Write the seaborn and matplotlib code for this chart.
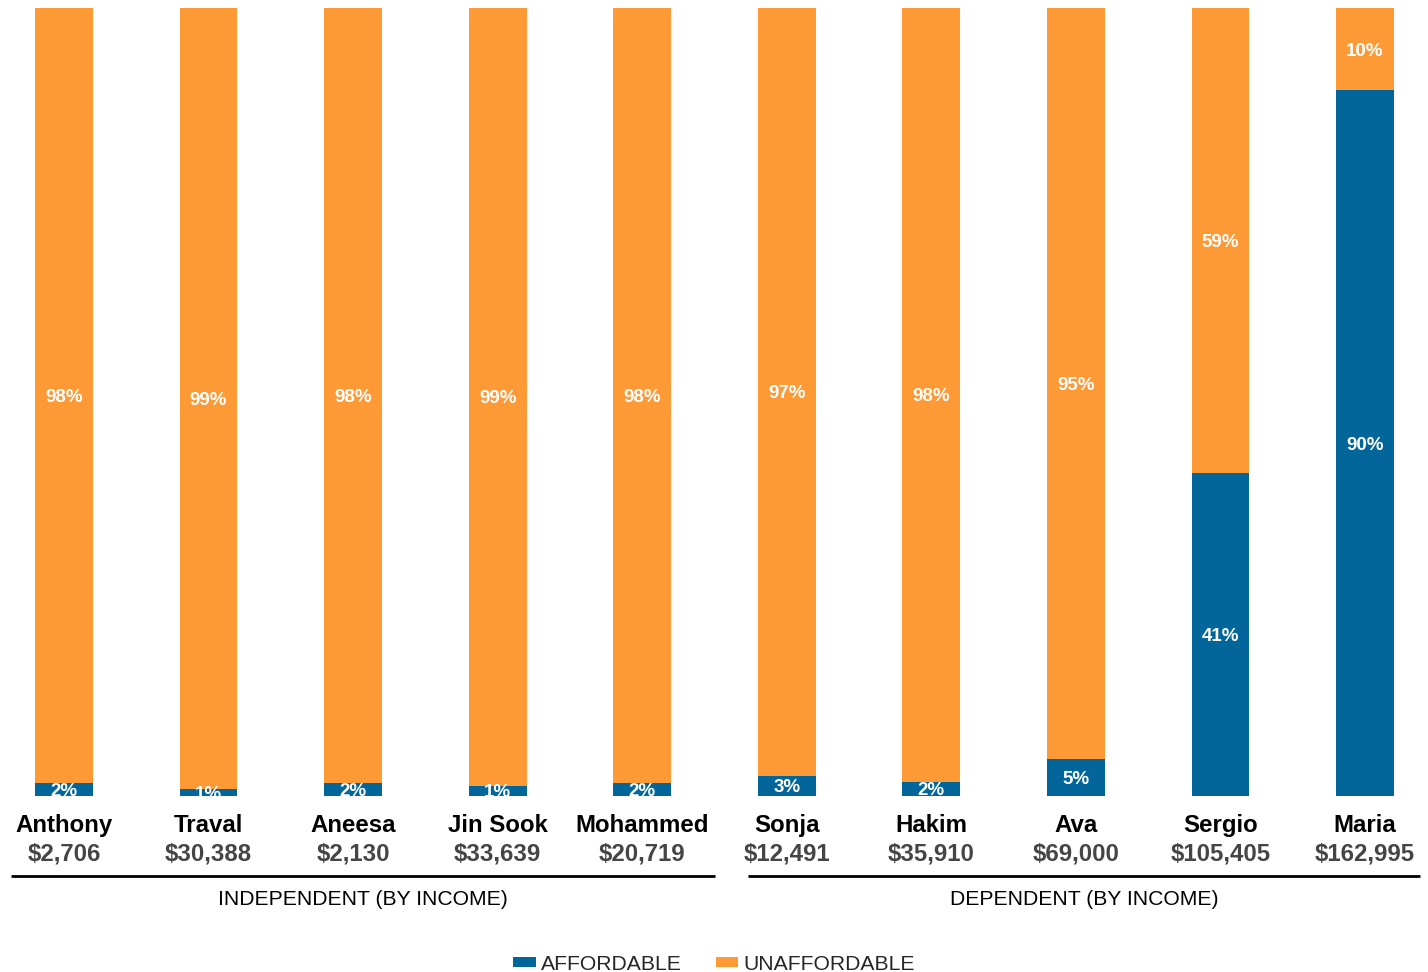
import matplotlib
matplotlib.use("Agg")
import matplotlib.pyplot as plt
import matplotlib.transforms as mtransforms
from matplotlib.patches import Patch
import seaborn as sns
import pandas as pd

names = ["Anthony", "Traval", "Aneesa", "Jin Sook", "Mohammed",
         "Sonja", "Hakim", "Ava", "Sergio", "Maria"]
incomes = ["$2,706", "$30,388", "$2,130", "$33,639", "$20,719",
           "$12,491", "$35,910", "$69,000", "$105,405", "$162,995"]
affordable = [1.6, 0.9, 1.6, 1.3, 1.6, 2.6, 1.8, 4.7, 41.0, 89.6]
unaffordable = [98.4, 99.1, 98.4, 98.7, 98.4, 97.4, 98.2, 95.3, 59.0, 10.4]
groups = ["INDEPENDENT (BY INCOME)", "DEPENDENT (BY INCOME)"]

BLUE = "#02669A"
ORANGE = "#FD9A36"

sns.set_theme(style="white")
plt.rcParams["font.family"] = ["Liberation Sans", "DejaVu Sans"]

df = pd.DataFrame({"name": names, "aff": affordable, "unaff": unaffordable})
df["total"] = df["aff"] + df["unaff"]

fig = plt.figure(figsize=(14.28, 9.72), dpi=100)
ax = fig.add_axes([0.0, (972 - 796) / 972, 1.0, 788 / 972])

sns.barplot(data=df, x="name", y="total", order=names, color=ORANGE,
            saturation=1, width=0.4, ax=ax, linewidth=0)
sns.barplot(data=df, x="name", y="aff", order=names, color=BLUE,
            saturation=1, width=0.4, ax=ax, linewidth=0)

ax.set_xlim(-64 / 144.5, 9 + 63 / 144.5)
ax.set_ylim(0, 100)
ax.axis("off")

down = mtransforms.ScaledTranslation(0, -1.5 / 72, fig.dpi_scale_trans)
for i, (a, u) in enumerate(zip(affordable, unaffordable)):
    ax.text(i, a / 2, f"{a:.0f}%", ha="center", va="center", color="white",
            fontsize=13.5, fontweight="bold", transform=ax.transData + down)
    ax.text(i, a + u / 2, f"{u:.0f}%", ha="center", va="center", color="white",
            fontsize=13.5, fontweight="bold", transform=ax.transData + down)

trans = mtransforms.blended_transform_factory(ax.transData, ax.transAxes)
for i, (n, inc) in enumerate(zip(names, incomes)):
    ax.text(i, -29 / 788, n, transform=trans, ha="center", va="center",
            fontsize=17.3, fontweight="bold", color="black", clip_on=False)
    ax.text(i, -58 / 788, inc, transform=trans, ha="center", va="center",
            fontsize=17.3, fontweight="bold", color="#454545", clip_on=False)

# group underlines and labels
spans = [(-0.37, 4.5), (4.73, 9.38)]
for g, (x0, x1) in enumerate(spans):
    ax.plot([x0, x1], [-80 / 788, -80 / 788], transform=trans, color="black",
            lw=2, clip_on=False, solid_capstyle="butt")
    ax.text((x0 + x1) / 2, -103 / 788, groups[g], transform=trans,
            ha="center", va="center", fontsize=15.2, color="black", clip_on=False)

handles = [Patch(facecolor=BLUE, edgecolor="none", label="AFFORDABLE"),
           Patch(facecolor=ORANGE, edgecolor="none", label="UNAFFORDABLE")]
fig.legend(handles=handles, loc="center", bbox_to_anchor=(0.5, 8 / 972),
           ncol=2, frameon=False, fontsize=15.2, handlelength=1.05,
           handleheight=0.38, handletextpad=0.25, columnspacing=1.6,
           borderpad=0, borderaxespad=0)

fig.savefig("out.png", dpi=100)
